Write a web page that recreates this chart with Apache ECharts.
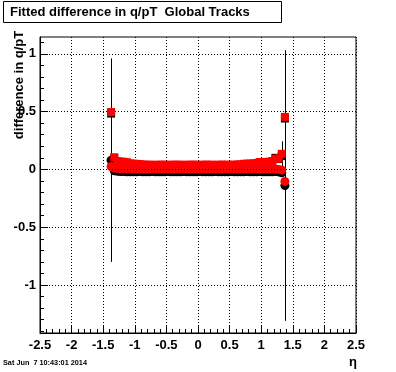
<!DOCTYPE html>
<html>
<head>
<meta charset="utf-8">
<script src="https://cdn.jsdelivr.net/npm/echarts@6/dist/echarts.min.js"></script>
<style>
html,body{margin:0;padding:0;background:#fff;}
#c{width:396px;height:372px;}
</style>
</head>
<body>
<div id="c"></div>
<script>
// ---- data ----
const eta = [-1.375,-1.325,-1.275,-1.225,-1.175,-1.125,-1.075,-1.025,
  -0.975,-0.925,-0.875,-0.825,-0.775,-0.725,-0.675,-0.625,
  -0.575,-0.525,-0.475,-0.425,-0.375,-0.325,-0.275,-0.225,
  -0.175,-0.125,-0.075,-0.025,0.025,0.075,0.125,0.175,
  0.225,0.275,0.325,0.375,0.425,0.475,0.525,0.575,
  0.625,0.675,0.725,0.775,0.825,0.875,0.925,0.975,
  1.025,1.075,1.125,1.175,1.225,1.275,1.325,1.375];

const redSq = [0.496,0.105,0.072,0.068,0.066,0.062,0.052,0.050,
  0.048,0.046,0.042,0.041,0.040,0.040,0.039,0.040,
  0.041,0.040,0.039,0.040,0.040,0.041,0.040,0.039,
  0.040,0.040,0.041,0.040,0.039,0.040,0.041,0.040,
  0.040,0.039,0.040,0.041,0.040,0.040,0.039,0.041,
  0.042,0.044,0.048,0.050,0.050,0.052,0.055,0.064,
  0.064,0.065,0.066,0.068,0.092,0.094,0.135,0.454];

const blackSq = [0.483,0.095,0.062,0.058,0.056,0.052,0.044,0.042,
  0.040,0.038,0.034,0.033,0.032,0.032,0.031,0.032,
  0.033,0.032,0.031,0.032,0.032,0.033,0.032,0.031,
  0.032,0.032,0.033,0.032,0.031,0.032,0.033,0.032,
  0.032,0.031,0.032,0.033,0.032,0.032,0.031,0.033,
  0.034,0.036,0.040,0.042,0.042,0.044,0.047,0.056,
  0.056,0.057,0.058,0.070,0.100,0.090,0.115,0.440];

const redCirc = [0.025,0.012,0.008,0.006,0.005,0.004,0.004,0.003,
  0.003,0.004,0.003,0.002,0.003,0.004,0.003,0.002,
  0.003,0.003,0.004,0.003,0.002,0.003,0.003,0.004,
  0.003,0.002,0.003,0.004,0.003,0.003,0.002,0.003,
  0.004,0.003,0.003,0.002,0.003,0.004,0.003,0.003,
  0.002,0.003,0.004,0.003,0.003,0.004,0.003,0.002,
  0.003,0.004,0.003,0.003,0.002,0.000,-0.005,-0.104];

const blackCirc = [0.080,-0.012,-0.016,-0.018,-0.019,-0.020,-0.020,-0.021,
  -0.020,-0.019,-0.020,-0.021,-0.020,-0.019,-0.020,-0.021,
  -0.020,-0.020,-0.019,-0.020,-0.021,-0.020,-0.020,-0.019,
  -0.020,-0.021,-0.020,-0.020,-0.019,-0.020,-0.021,-0.020,
  -0.020,-0.019,-0.020,-0.021,-0.020,-0.020,-0.019,-0.020,
  -0.021,-0.020,-0.020,-0.019,-0.020,-0.021,-0.020,-0.019,
  -0.020,-0.020,-0.021,-0.020,-0.019,-0.022,-0.030,-0.140];

const errBlackCirc = [0.880,0.010,0.010,0.010,0.010,0.010,0.010,0.010,
  0.010,0.010,0.010,0.010,0.010,0.010,0.010,0.010,
  0.010,0.010,0.010,0.010,0.010,0.010,0.010,0.010,
  0.010,0.010,0.010,0.010,0.010,0.010,0.010,0.010,
  0.010,0.010,0.010,0.010,0.010,0.010,0.010,0.010,
  0.010,0.010,0.010,0.010,0.010,0.010,0.010,0.010,
  0.010,0.010,0.010,0.010,0.010,0.010,0.020,1.170];

const errRedSq = [0.005,0.005,0.005,0.005,0.005,0.005,0.005,0.005,
  0.005,0.005,0.005,0.005,0.005,0.005,0.005,0.005,
  0.005,0.005,0.005,0.005,0.005,0.005,0.005,0.005,
  0.005,0.005,0.005,0.005,0.005,0.005,0.005,0.005,
  0.005,0.005,0.005,0.005,0.005,0.005,0.005,0.005,
  0.005,0.005,0.005,0.005,0.005,0.005,0.005,0.005,
  0.005,0.005,0.005,0.005,0.005,0.005,0.108,0.005];

const yMin = -1.415, yMax = 1.145;
const yMajorTicks = [-1, -0.5, 0, 0.5, 1];
const yMinorTicks = [-1.4,-1.3,-1.2,-1.1,-0.9,-0.8,-0.7,-0.6,-0.4,-0.3,-0.2,-0.1,
  0.1,0.2,0.3,0.4,0.6,0.7,0.8,0.9,1.1];
const xMin = -2.5, xMax = 2.5, xStep = 0.5;

const titleText = 'Fitted difference in q/pT  Global Tracks';
const yTitle = 'difference in q/pT';
const xTitle = 'η';
const dateText = 'Sat Jun  7 10:43:01 2014';

// ---- chart ----
const FONT = '"Liberation Sans", Arial, Helvetica, sans-serif';
const chart = echarts.init(document.getElementById('c'), null, {renderer: 'canvas'});

function zip(vals, errs) {
  return eta.map((x, i) => errs ? [x, vals[i], errs[i]] : [x, vals[i]]);
}

function errRender(params, api) {
  const x = api.value(0), y = api.value(1), e = api.value(2);
  const p1 = api.coord([x, Math.min(y + e, yMax)]);
  const p2 = api.coord([x, Math.max(y - e, yMin)]);
  const px = Math.round(p1[0]) + 0.5;
  return {
    type: 'line',
    shape: {x1: px, y1: p1[1], x2: px, y2: p2[1]},
    style: {stroke: '#000', lineWidth: 1}
  };
}

const dotted = {color: '#000', width: 1, type: [1, 2]};

const option = {
  animation: false,
  backgroundColor: '#fff',
  grid: {left: 40, right: 40, top: 37, bottom: 39, show: true,
    borderColor: '#000', borderWidth: 1, backgroundColor: 'transparent'},
  xAxis: {
    type: 'value', min: xMin, max: xMax, interval: xStep,
    axisLine: {show: true, onZero: false, lineStyle: {color: '#000', width: 1}},
    axisTick: {show: true, inside: true, length: 8, lineStyle: {color: '#000'}},
    minorTick: {show: true, splitNumber: 5, length: 4, lineStyle: {color: '#000'}},
    splitLine: {show: true, lineStyle: dotted},
    axisLabel: {show: true, showMinLabel: true, showMaxLabel: true, margin: 6,
      color: '#000', fontFamily: FONT, fontWeight: 'bold', fontSize: 13}
  },
  yAxis: [{
    type: 'value', min: yMin, max: yMax, position: 'left',
    axisLine: {show: true, onZero: false, lineStyle: {color: '#000', width: 1}},
    axisTick: {show: true, inside: true, length: 8, customValues: yMajorTicks, lineStyle: {color: '#000'}},
    axisLabel: {show: true, customValues: yMajorTicks, margin: 4,
      color: '#000', fontFamily: FONT, fontWeight: 'bold', fontSize: 13},
    splitLine: {show: false}
  }, {
    type: 'value', min: yMin, max: yMax, position: 'left', offset: 0,
    axisLine: {show: false, onZero: false},
    axisTick: {show: true, inside: true, length: 4, customValues: yMinorTicks, lineStyle: {color: '#000'}},
    axisLabel: {show: false},
    splitLine: {show: false}
  }],
  series: [
    {
      type: 'scatter', data: [], z: 0, silent: true,
      markLine: {
        silent: true, symbol: ['none', 'none'], label: {show: false},
        lineStyle: dotted, animation: false,
        data: yMajorTicks.map(v => ({yAxis: v}))
      }
    },
    {type: 'custom', renderItem: errRender, data: zip(blackCirc, errBlackCirc), z: 1, silent: true},
    {type: 'custom', renderItem: errRender, data: zip(redSq, errRedSq), z: 1, silent: true},
    {type: 'scatter', data: zip(blackSq), symbol: 'rect', symbolSize: 8, z: 2,
      itemStyle: {color: '#000', opacity: 1}, silent: true},
    {type: 'scatter', data: zip(blackCirc), symbol: 'circle', symbolSize: 9, z: 3,
      itemStyle: {color: '#000', opacity: 1}, silent: true},
    {type: 'scatter', data: zip(redCirc), symbol: 'circle', symbolSize: 9, z: 4,
      itemStyle: {color: '#ff0000', opacity: 1}, silent: true},
    {type: 'scatter', data: zip(redSq), symbol: 'rect', symbolSize: 8, z: 5,
      itemStyle: {color: '#ff0000', opacity: 1}, silent: true}
  ],
  graphic: [
    {type: 'rect', shape: {x: 3.5, y: 1.5, width: 278, height: 21},
      style: {fill: '#fff', stroke: '#000', lineWidth: 1}, z: 10},
    {type: 'text', x: 10, y: 12.5, z: 11,
      style: {text: titleText, fill: '#000', font: 'bold 13px ' + FONT,
        textAlign: 'left', textVerticalAlign: 'middle'}},
    {type: 'text', x: 19, y: 85, rotation: Math.PI / 2, z: 11,
      style: {text: yTitle, fill: '#000', font: 'bold 13px ' + FONT,
        textAlign: 'center', textVerticalAlign: 'middle'}},
    {type: 'text', x: 353, y: 362, z: 11,
      style: {text: xTitle, fill: '#000', font: 'bold 13px ' + FONT,
        textAlign: 'center', textVerticalAlign: 'middle'}},
    {type: 'text', x: 3, y: 363, z: 11,
      style: {text: dateText, fill: '#000', font: 'bold 7.3px ' + FONT,
        textAlign: 'left', textVerticalAlign: 'middle'}}
  ]
};
chart.setOption(option);
</script>
</body>
</html>
